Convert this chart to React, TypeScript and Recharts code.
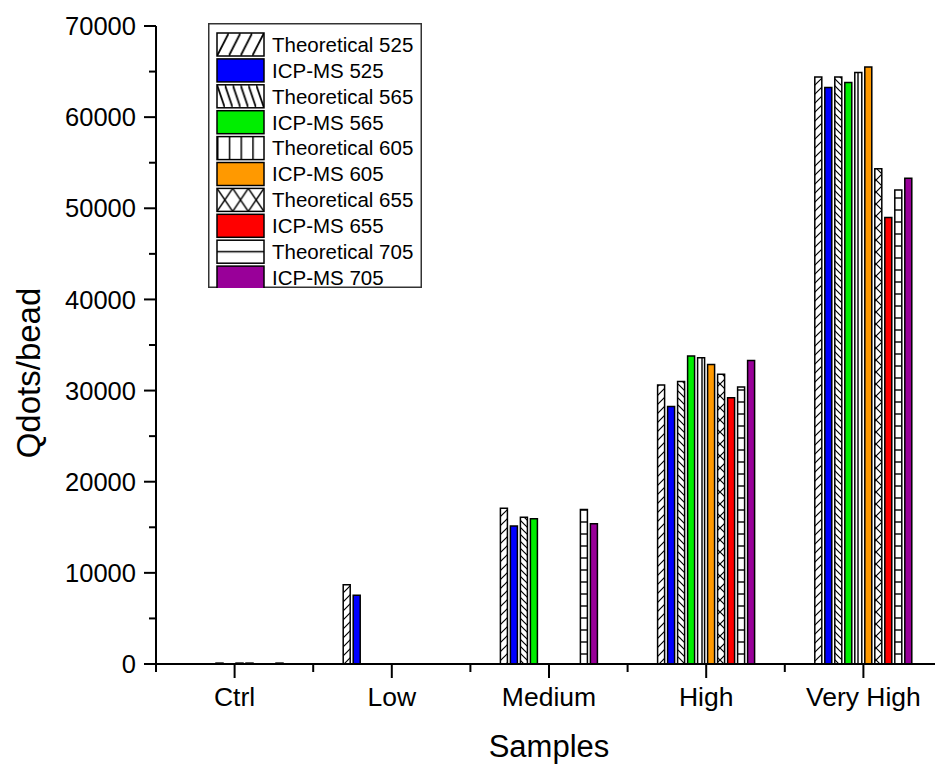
import React from "react";
import { Bar, BarChart, Legend, XAxis, YAxis } from "recharts";

const categories = ["Ctrl", "Low", "Medium", "High", "Very High"];

const theo525 = [0, 8700, 17100, 30600, 64400];
const icp525 = [0, 7550, 15150, 28250, 63250];
const theo565 = [0, 0, 16100, 31000, 64400];
const icp565 = [100, 0, 15950, 33800, 63800];
const theo605 = [0, 0, 0, 33600, 64900];
const icp605 = [100, 0, 0, 32850, 65500];
const theo655 = [100, 0, 0, 31800, 54350];
const icp655 = [0, 0, 0, 29200, 49000];
const theo705 = [0, 0, 16950, 30400, 52000];
const icp705 = [100, 0, 15400, 33300, 53300];

const yTicks = [0, 5000, 10000, 15000, 20000, 25000, 30000, 35000, 40000, 45000, 50000, 55000, 60000, 65000, 70000];

const series = [
  { key: "theo525", name: "Theoretical 525", values: theo525, fill: "url(#p525)", legendFill: "url(#l525)" },
  { key: "icp525", name: "ICP-MS 525", values: icp525, fill: "#0000ff", legendFill: "#0000ff" },
  { key: "theo565", name: "Theoretical 565", values: theo565, fill: "url(#p565)", legendFill: "url(#l565)" },
  { key: "icp565", name: "ICP-MS 565", values: icp565, fill: "#00ee00", legendFill: "#00ee00" },
  { key: "theo605", name: "Theoretical 605", values: theo605, fill: "url(#p605)", legendFill: "url(#l605)" },
  { key: "icp605", name: "ICP-MS 605", values: icp605, fill: "#ff9900", legendFill: "#ff9900" },
  { key: "theo655", name: "Theoretical 655", values: theo655, fill: "url(#p655)", legendFill: "url(#l655)" },
  { key: "icp655", name: "ICP-MS 655", values: icp655, fill: "#ff0000", legendFill: "#ff0000" },
  { key: "theo705", name: "Theoretical 705", values: theo705, fill: "url(#p705)", legendFill: "url(#l705)" },
  { key: "icp705", name: "ICP-MS 705", values: icp705, fill: "#990099", legendFill: "#990099" },
];

const data = categories.map((name, i) => {
  const row: Record<string, any> = { name };
  series.forEach((s) => (row[s.key] = s.values[i]));
  return row;
});

const FONT = "'Liberation Sans', Arial, sans-serif";
const WIDTH = 945;
const HEIGHT = 768;
const Y_AXIS_W = 156;
const RIGHT = 3;
const BAND = (WIDTH - Y_AXIS_W - RIGHT) / categories.length;

function YTick({ x, y, payload }: any) {
  const major = payload.value % 10000 === 0;
  return (
    <g>
      <line x1={x - (major ? 12 : 7)} x2={x} y1={y} y2={y} stroke="#000" strokeWidth={2} />
      {major && (
        <text x={x - 20} y={y} dy="0.36em" textAnchor="end" fontSize={25.5} fontFamily={FONT} fill="#000">
          {payload.value}
        </text>
      )}
    </g>
  );
}

function XTick({ x, y, payload, index }: any) {
  return (
    <g>
      <line x1={x} x2={x} y1={y} y2={y + 14} stroke="#000" strokeWidth={2} />
      <line x1={x - BAND / 2} x2={x - BAND / 2} y1={y} y2={y + 8} stroke="#000" strokeWidth={2} />
      {index === categories.length - 1 && (
        <line x1={x + BAND / 2} x2={x + BAND / 2} y1={y} y2={y + 8} stroke="#000" strokeWidth={2} />
      )}
      <text x={x} y={y + 42} textAnchor="middle" fontSize={26.5} fontFamily={FONT} fill="#000">
        {payload.value}
      </text>
    </g>
  );
}

function YTitle({ viewBox }: any) {
  const cx = 28;
  const cy = viewBox.y + viewBox.height / 2 + 28;
  return (
    <text
      x={cx}
      y={cy}
      transform={`rotate(-90 ${cx} ${cy})`}
      textAnchor="middle"
      dominantBaseline="central"
      fontSize={33}
      fontFamily={FONT}
      fill="#000"
    >
      Qdots/bead
    </text>
  );
}

function XTitle({ viewBox }: any) {
  return (
    <text x={viewBox.x + viewBox.width / 2} y={757} textAnchor="middle" fontSize={31} fontFamily={FONT} fill="#000">
      Samples
    </text>
  );
}

// swatch patterns for the legend, scaled to the swatch box
function LegendDefs() {
  const ln = { stroke: "#000", strokeWidth: 1.5, fill: "none" };
  return (
    <defs>
      <pattern id="l525" patternUnits="objectBoundingBox" width={0.25} height={1}>
        <rect width={11.75} height={23} fill="#fff" />
        <path d="M0,23 L11.75,0" {...ln} strokeWidth={1.8} />
      </pattern>
      <pattern id="l565" patternUnits="objectBoundingBox" width={1 / 6} height={1}>
        <rect width={7.84} height={23} fill="#fff" />
        <path d="M0,0 L7.84,23" {...ln} strokeWidth={1.8} />
      </pattern>
      <pattern id="l605" patternUnits="objectBoundingBox" width={0.25} height={1}>
        <rect width={11.75} height={23} fill="#fff" />
        <path d="M0,0 L0,23" {...ln} strokeWidth={3} />
      </pattern>
      <pattern id="l655" patternUnits="objectBoundingBox" width={1 / 3} height={1}>
        <rect width={15.67} height={23} fill="#fff" />
        <path d="M0,0 L15.67,23 M15.67,0 L0,23" {...ln} />
      </pattern>
      <pattern id="l705" patternUnits="objectBoundingBox" width={1} height={1}>
        <rect width={47} height={23} fill="#fff" />
        <path d="M0,11.5 L47,11.5" {...ln} />
      </pattern>
    </defs>
  );
}

function LegendBox() {
  return (
    <svg width={214} height={265} style={{ display: "block" }}>
      <LegendDefs />
      <rect x={0.75} y={0.75} width={212.5} height={263.5} fill="#fff" stroke="#333" strokeWidth={1.5} />
      {series.map((s, i) => {
        const top = 10 + i * 25.9;
        return (
          <g key={s.key}>
            <rect x={9} y={top} width={47} height={23} fill={s.legendFill} stroke="#000" strokeWidth={1.5} />
            <text x={64} y={top + 11.5} dy="0.36em" fontSize={20.5} fontFamily={FONT} fill="#000">
              {s.name}
            </text>
          </g>
        );
      })}
    </svg>
  );
}

export default function App() {
  return (
    <div style={{ position: "absolute", left: 0, top: 0, width: 935, height: HEIGHT, overflow: "hidden", background: "#fff" }}>
      <BarChart
        width={WIDTH}
        height={HEIGHT}
        data={data}
        margin={{ top: 26, right: RIGHT, left: 0, bottom: 0 }}
        barSize={7}
        barGap={3}
      >
        <defs>
          <pattern id="p525" patternUnits="userSpaceOnUse" width={9} height={9}>
            <rect width={9} height={9} fill="#fff" />
            <path d="M0,9 L9,0 M-2,2 L2,-2 M7,11 L11,7" stroke="#000" strokeWidth={1.2} />
          </pattern>
          <pattern id="p565" patternUnits="userSpaceOnUse" width={7} height={7}>
            <rect width={7} height={7} fill="#fff" />
            <path d="M0,0 L7,7 M-2,5 L2,9 M5,-2 L9,2" stroke="#000" strokeWidth={1.2} />
          </pattern>
          <pattern id="p605" patternUnits="userSpaceOnUse" width={12} height={12}>
            <rect width={12} height={12} fill="#fff" />
            <path d="M6,0 L6,12" stroke="#000" strokeWidth={1.4} />
          </pattern>
          <pattern id="p655" patternUnits="userSpaceOnUse" width={12} height={12}>
            <rect width={12} height={12} fill="#fff" />
            <path d="M0,0 L12,12 M12,0 L0,12" stroke="#000" strokeWidth={1.2} />
          </pattern>
          <pattern id="p705" patternUnits="userSpaceOnUse" width={12} height={12}>
            <rect width={12} height={12} fill="#fff" />
            <path d="M0,6 L12,6" stroke="#000" strokeWidth={1.4} />
          </pattern>
        </defs>
        <XAxis
          dataKey="name"
          height={HEIGHT - 664}
          axisLine={{ stroke: "#000", strokeWidth: 2 }}
          tickLine={false}
          tickSize={0}
          tickMargin={0}
          interval={0}
          tick={<XTick />}
          label={<XTitle />}
        />
        <YAxis
          width={Y_AXIS_W}
          domain={[0, 70000]}
          ticks={yTicks}
          interval={0}
          axisLine={{ stroke: "#000", strokeWidth: 2 }}
          tickLine={false}
          tickSize={0}
          tickMargin={0}
          tick={<YTick />}
          label={<YTitle />}
        />
        <Legend
          layout="vertical"
          align="center"
          verticalAlign="middle"
          content={<LegendBox />}
          wrapperStyle={{ position: "absolute", left: 208, top: 23, width: 214, height: 265 }}
        />
        {series.map((s) => (
          <Bar
            key={s.key}
            dataKey={s.key}
            name={s.name}
            fill={s.fill}
            stroke="#000"
            strokeWidth={1.5}
            isAnimationActive={false}
          />
        ))}
      </BarChart>
    </div>
  );
}
